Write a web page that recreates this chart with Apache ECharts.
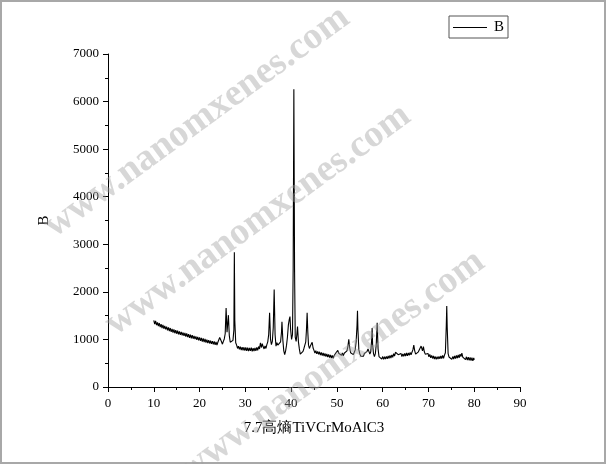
<!DOCTYPE html>
<html>
<head>
<meta charset="utf-8">
<script src="https://cdn.jsdelivr.net/npm/echarts@6/dist/echarts.min.js"></script>
<style>
html,body{margin:0;padding:0;background:#fff;}
#c{width:606px;height:464px;}
</style>
</head>
<body>
<div id="c"></div>
<script>
// Data
const seriesName = 'B';
const xTitle = '7.7高熵TiVCrMoAlC3';
const yTitle = 'B';
const xTicks = [0, 10, 20, 30, 40, 50, 60, 70, 80, 90];
const yTicks = [0, 1000, 2000, 3000, 4000, 5000, 6000, 7000];
const watermarkText = 'www.nanomxenes.com';

// 2θ positions and intensities (pairs)
const pattern = [
[10.0,1400],[10.2,1320],[10.4,1390],[10.6,1300],[10.8,1360],[11.0,1280],[11.2,1345],[11.4,1260],[11.6,1320],[11.8,1240],
[12.0,1305],[12.2,1225],[12.4,1285],[12.6,1210],[12.8,1270],[13.0,1190],[13.2,1255],[13.4,1175],[13.6,1240],[13.8,1160],
[14.0,1220],[14.2,1145],[14.4,1210],[14.6,1130],[14.8,1195],[15.0,1120],[15.2,1185],[15.4,1105],[15.6,1170],[15.8,1095],
[16.0,1160],[16.2,1085],[16.4,1145],[16.6,1075],[16.8,1135],[17.0,1060],[17.2,1125],[17.4,1050],[17.6,1110],[17.8,1035],
[18.0,1100],[18.2,1025],[18.4,1090],[18.6,1015],[18.8,1075],[19.0,1005],[19.2,1065],[19.4,990],[19.6,1055],[19.8,980],
[20.0,1045],[20.2,970],[20.4,1030],[20.6,955],[20.8,1020],[21.0,945],[21.2,1010],[21.4,935],[21.6,995],[21.8,925],
[22.0,985],[22.2,915],[22.4,975],[22.6,905],[22.8,965],[23.0,895],[23.2,960],[23.4,885],[23.6,950],[23.8,880],
[24.0,940],[24.2,960],[24.4,1040],[24.6,1080],[24.8,950],[25.0,900],[25.2,960],[25.4,1010],[25.6,1120],[25.8,1660],
[26.0,1150],[26.2,1180],[26.3,1510],[26.5,1080],[26.7,940],[26.9,920],[27.1,950],[27.3,980],[27.5,1200],[27.6,2830],
[27.7,1400],[27.9,930],[28.1,880],[28.3,810],[28.5,860],[28.7,790],[28.9,850],[29.1,775],[29.3,840],[29.5,770],
[29.7,835],[29.9,765],[30.1,830],[30.3,760],[30.5,825],[30.7,755],[30.9,820],[31.1,760],[31.3,825],[31.5,750],
[31.7,815],[31.9,755],[32.1,820],[32.3,760],[32.5,830],[32.7,770],[32.9,850],[33.1,800],[33.3,930],[33.5,830],
[33.7,910],[33.9,845],[34.1,800],[34.3,865],[34.5,810],[34.7,890],[34.9,950],[35.1,1100],[35.3,1560],[35.5,1000],
[35.7,890],[35.9,960],[36.1,1250],[36.3,2050],[36.5,1100],[36.7,860],[36.9,930],[37.1,880],[37.3,900],[37.5,860],
[37.7,950],[37.9,1150],[38.0,1370],[38.2,980],[38.4,760],[38.6,680],[38.8,760],[39.0,880],[39.2,1050],[39.4,1300],
[39.6,1420],[39.75,1480],[39.9,1200],[40.1,1000],[40.3,1100],[40.45,2500],[40.6,6260],[40.75,2500],[40.9,1050],[41.1,960],
[41.25,1100],[41.4,1270],[41.6,950],[41.8,800],[42.0,690],[42.2,660],[42.4,730],[42.6,750],[42.8,810],[43.0,840],
[43.2,950],[43.35,1200],[43.5,1560],[43.65,1150],[43.8,880],[44.0,810],[44.2,860],[44.4,900],[44.6,940],[44.8,820],
[45.0,770],[45.2,715],[45.4,765],[45.6,695],[45.8,750],[46.0,685],[46.2,740],[46.4,670],[46.6,725],[46.8,660],
[47.0,715],[47.2,650],[47.4,705],[47.6,640],[47.8,695],[48.0,630],[48.2,685],[48.4,620],[48.6,675],[48.8,610],
[49.0,665],[49.2,605],[49.4,660],[49.6,690],[49.8,720],[50.0,690],[50.2,770],[50.4,710],[50.6,700],[50.8,720],
[51.0,665],[51.2,715],[51.4,655],[51.6,710],[51.8,690],[52.0,730],[52.2,760],[52.4,850],[52.6,1000],[52.8,820],
[53.0,720],[53.2,680],[53.4,700],[53.6,680],[53.8,730],[54.0,780],[54.2,950],[54.4,1300],[54.5,1600],[54.6,1200],
[54.8,780],[55.0,700],[55.2,650],[55.4,665],[55.6,690],[55.8,645],[56.0,705],[56.2,720],[56.4,690],[56.6,750],
[56.8,800],[57.0,760],[57.2,690],[57.4,740],[57.6,1000],[57.7,1240],[57.8,900],[58.0,700],[58.2,640],[58.4,700],
[58.6,900],[58.8,1350],[59.0,800],[59.2,640],[59.4,600],[59.6,645],[59.8,585],[60.0,640],[60.2,580],[60.4,635],
[60.6,585],[60.8,645],[61.0,590],[61.2,655],[61.4,600],[61.6,665],[61.8,610],[62.0,675],[62.2,625],[62.4,700],
[62.6,650],[62.8,730],[63.0,770],[63.2,740],[63.4,680],[63.6,715],[63.8,645],[64.0,705],[64.2,640],[64.4,695],
[64.6,645],[64.8,705],[65.0,650],[65.2,715],[65.4,655],[65.6,715],[65.8,665],[66.0,725],[66.2,675],[66.4,730],
[66.6,780],[66.8,880],[67.0,760],[67.2,690],[67.4,670],[67.6,715],[67.8,740],[68.0,710],[68.2,780],[68.4,860],
[68.5,900],[68.7,760],[68.9,850],[69.1,740],[69.3,690],[69.5,730],[69.7,665],[69.9,705],[70.1,635],[70.3,685],
[70.5,615],[70.7,665],[70.9,600],[71.1,655],[71.3,585],[71.5,640],[71.7,580],[71.9,635],[72.1,585],[72.3,645],
[72.5,590],[72.7,655],[72.9,595],[73.1,665],[73.3,605],[73.5,670],[73.7,720],[73.9,1300],[74.0,1700],[74.1,1250],
[74.3,700],[74.5,630],[74.7,590],[74.9,645],[75.1,580],[75.3,640],[75.5,585],[75.7,655],[75.9,595],[76.1,665],
[76.3,605],[76.5,675],[76.7,615],[76.9,690],[77.1,640],[77.3,710],[77.5,630],[77.7,590],[77.9,645],[78.1,575],
[78.3,635],[78.5,565],[78.7,625],[78.9,560],[79.1,620],[79.3,555],[79.5,615],[79.7,550],[79.9,610],[80.0,570]
];

const chart = echarts.init(document.getElementById('c'), null, {renderer: 'canvas'});
const serif = '"Liberation Serif", "Times New Roman", serif';
const wmStyle = {
  text: watermarkText,
  fill: 'rgba(160,160,160,0.42)',
  font: 'bold 38px "Liberation Serif", serif',
  align: 'center',
  verticalAlign: 'middle'
};
const rot = 36 * Math.PI / 180;

chart.setOption({
  animation: false,
  backgroundColor: '#fff',
  grid: {left: 108, right: 86, top: 54, bottom: 77, containLabel: false},
  legend: {
    left: 449, top: 16,
    padding: [4, 4, 3, 4],
    borderColor: '#555', borderWidth: 1,
    itemWidth: 34, itemHeight: 1, itemGap: 4,
    icon: 'rect',
    textStyle: {fontFamily: serif, fontSize: 15, color: '#000', padding: [0, 0, 0, 2]},
    data: [seriesName]
  },
  xAxis: {
    type: 'value', min: xTicks[0], max: xTicks[xTicks.length - 1], interval: 10,
    name: xTitle, nameLocation: 'middle', nameGap: 34,
    nameTextStyle: {fontFamily: serif, fontSize: 15, color: '#000'},
    axisLine: {show: true, onZero: false, lineStyle: {color: '#000', width: 1}},
    axisTick: {show: true, length: 5, lineStyle: {color: '#000'}},
    minorTick: {show: true, splitNumber: 2, length: 3, lineStyle: {color: '#000'}},
    axisLabel: {fontFamily: serif, fontSize: 13, color: '#000', margin: 10},
    splitLine: {show: false}
  },
  yAxis: {
    type: 'value', min: yTicks[0], max: yTicks[yTicks.length - 1], interval: 1000,
    name: yTitle, nameLocation: 'middle', nameGap: 56,
    nameTextStyle: {fontFamily: serif, fontSize: 15, color: '#000'},
    axisLine: {show: true, lineStyle: {color: '#000', width: 1}},
    axisTick: {show: true, length: 5, lineStyle: {color: '#000'}},
    minorTick: {show: true, splitNumber: 2, length: 3, lineStyle: {color: '#000'}},
    axisLabel: {fontFamily: serif, fontSize: 13, color: '#000', margin: 9, formatter: function (v) { return String(v); }},
    splitLine: {show: false}
  },
  series: [{
    name: seriesName, type: 'line', data: pattern,
    symbol: 'none', showSymbol: false,
    lineStyle: {color: '#000', width: 1.1},
    itemStyle: {color: '#000'}
  }],
  graphic: [
    {type: 'rect', shape: {x: 1, y: 1, width: 604, height: 462}, style: {fill: 'none', stroke: '#a8a8a8', lineWidth: 2}, z: 100},
    {type: 'text', x: 197, y: 122, rotation: rot, style: wmStyle, z: 100, silent: true},
    {type: 'text', x: 258, y: 220, rotation: rot, style: wmStyle, z: 100, silent: true},
    {type: 'text', x: 332, y: 366, rotation: rot, style: wmStyle, z: 100, silent: true}
  ]
});
</script>
</body>
</html>
